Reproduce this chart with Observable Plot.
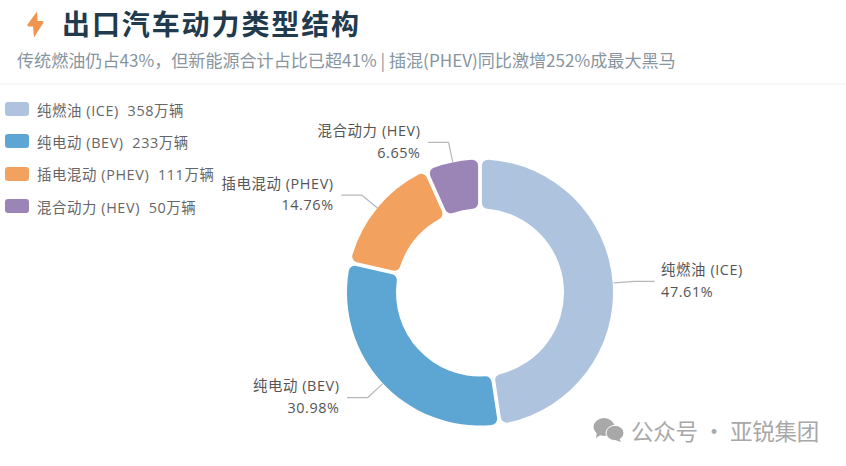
<!DOCTYPE html>
<html><head><meta charset="utf-8">
<script src="https://cdn.jsdelivr.net/npm/d3@7"></script>
<script src="https://cdn.jsdelivr.net/npm/@observablehq/plot@0.6"></script>
<style>
html,body{margin:0;padding:0;background:#fff;width:846px;height:466px;overflow:hidden;font-family:"Open Sans","Noto Sans CJK SC",sans-serif}
#page{position:relative;width:846px;height:466px}
#head{position:absolute;left:0;top:0;width:846px;height:83px;border-bottom:2px solid #f8f8f8}
#bolt{position:absolute;left:26px;top:11px}
#title{position:absolute;left:62px;top:3px;font-family:"Noto Sans CJK SC",sans-serif;font-size:28px;line-height:40px;font-weight:700;color:#1f3b4d;letter-spacing:1.9px;white-space:nowrap}
#sub{position:absolute;left:17px;top:48px;font-family:"Noto Sans CJK SC",sans-serif;font-size:17.08px;line-height:24px;color:#87959e;white-space:nowrap}
#chart{position:absolute;left:0;top:85px}
#legend{position:absolute;left:5px;top:93px}
.item{display:flex;align-items:center;height:32.3px;font-size:14.4px;letter-spacing:.6px;color:#666;white-space:pre}
.sw{width:24px;height:14px;border-radius:3px;margin-right:8px}
#mark{position:absolute;left:593px;top:415px;display:flex;align-items:center;color:#a8a8a8;font-family:"Noto Sans CJK SC",sans-serif;font-size:22.5px;letter-spacing:-.2px;line-height:30px;white-space:pre}
</style></head><body>
<div id="page">
  <div id="head">
    <svg id="bolt" width="19" height="27" viewBox="0 0 19 27"><path d="M11 0.5 L1.5 13.5 Q1 15.5 3.5 15.5 L7 15.5 L8 26.5 L17.5 11.5 Q18 10 16 10 L11.5 10 Z" fill="#f0954f"/></svg>
    <div id="title"></div><div id="sub"></div>
  </div>
  <div id="chart"></div>
  <div id="legend"></div>
  <div id="mark">
    <svg width="32" height="26" viewBox="0 0 32 26" style="margin-right:6px"><ellipse cx="11" cy="10" rx="10.5" ry="9" fill="#a8a8a8"/><path d="M4 15 L3 21 L9 17Z" fill="#a8a8a8"/><ellipse cx="22" cy="16" rx="9" ry="7.6" fill="#a8a8a8" stroke="#fff" stroke-width="1"/><path d="M26 21 L28 25 L22 23Z" fill="#a8a8a8"/></svg>
    <span id="marktext"></span>
  </div>
</div>
<script>
const titleText = "出口汽车动力类型结构";
const subtitleText = "传统燃油仍占43%，但新能源合计占比已超41% | 插混(PHEV)同比激增252%成最大黑马";
const watermarkText = "公众号 · 亚锐集团";
const categories = ["纯燃油 (ICE)", "纯电动 (BEV)", "插电混动 (PHEV)", "混合动力 (HEV)"];
const units = [358, 233, 111, 50];
const shares = [47.61, 30.98, 14.76, 6.65];
const colors = ["#aec4de", "#5da5d3", "#f2a25e", "#9b84b6"];

document.getElementById("title").textContent = titleText;
document.getElementById("sub").textContent = subtitleText;
document.getElementById("marktext").textContent = watermarkText;

document.getElementById("legend").append(...categories.map((c, i) => {
  const row = document.createElement("div"); row.className = "item";
  const sw = document.createElement("span"); sw.className = "sw"; sw.style.background = colors[i];
  const t = document.createElement("span"); t.textContent = `${c}  ${units[i]}万辆`;
  row.append(sw, t); return row;
}));

const W = 846, H = 381, top0 = 85;
const cx = 480, cy = 292.5, R = 133, r0 = 84;
const slices = d3.pie().sort(null).value(d => d.share)(categories.map((name, i) => ({name, share: shares[i]})));
const rows = slices.map(s => {
  const mid = (s.startAngle + s.endAngle) / 2, sx = Math.sin(mid), cy_ = -Math.cos(mid), side = sx >= 0 ? 1 : -1;
  const ex = cx + 154 * sx, ey = cy + 154 * cy_;
  return {name: s.data.name, share: s.data.share, arc: s, side,
    leader: [[cx + (R + 1) * sx, cy + (R + 1) * cy_], [ex, ey], [ex + side * 20, ey]],
    lx: ex + side * (side > 0 ? 27 : 28), ly: ey - 2.5};
});
const arcGen = d3.arc().innerRadius(r0).outerRadius(R).cornerRadius(6).padAngle(0.024);
const donut = (index, scales, values, dims) => {
  const ppu = scales.x(1) - scales.x(0);
  arcGen.innerRadius(r0 * ppu).outerRadius(R * ppu);
  const g = d3.create("svg:g").attr("transform", `translate(${scales.x(cx)},${scales.y(cy)})`);
  rows.forEach(d => g.append("path").attr("d", arcGen(d.arc)).attr("fill", scales.color(d.name)));
  return g.node();
};
const fmt = d => `${d.name}\n${d.share.toFixed(2)}%`;
const chart = Plot.plot({
  width: W, height: H, margin: 0,
  x: {domain: [0, W], axis: null},
  y: {domain: [top0 + H, top0], axis: null},
  color: {domain: categories, range: colors},
  style: {background: "transparent", letterSpacing: "0.6px", fontFamily: '"Open Sans","Noto Sans CJK SC",sans-serif'},
  marks: [
    donut,
    ...rows.map(d => Plot.line(d.leader, {x: p => p[0], y: p => p[1], stroke: "#b5b8bb", strokeWidth: 1.2})),
    Plot.text(rows.filter(d => d.side > 0), {x: "lx", y: "ly", text: fmt, textAnchor: "start", fontSize: 14.4, lineHeight: 1.5, fill: "#555"}),
    Plot.text(rows.filter(d => d.side < 0), {x: "lx", y: "ly", text: fmt, textAnchor: "end", fontSize: 14.4, lineHeight: 1.5, fill: "#555"})
  ]
});
document.getElementById("chart").append(chart);
</script>
</body></html>
